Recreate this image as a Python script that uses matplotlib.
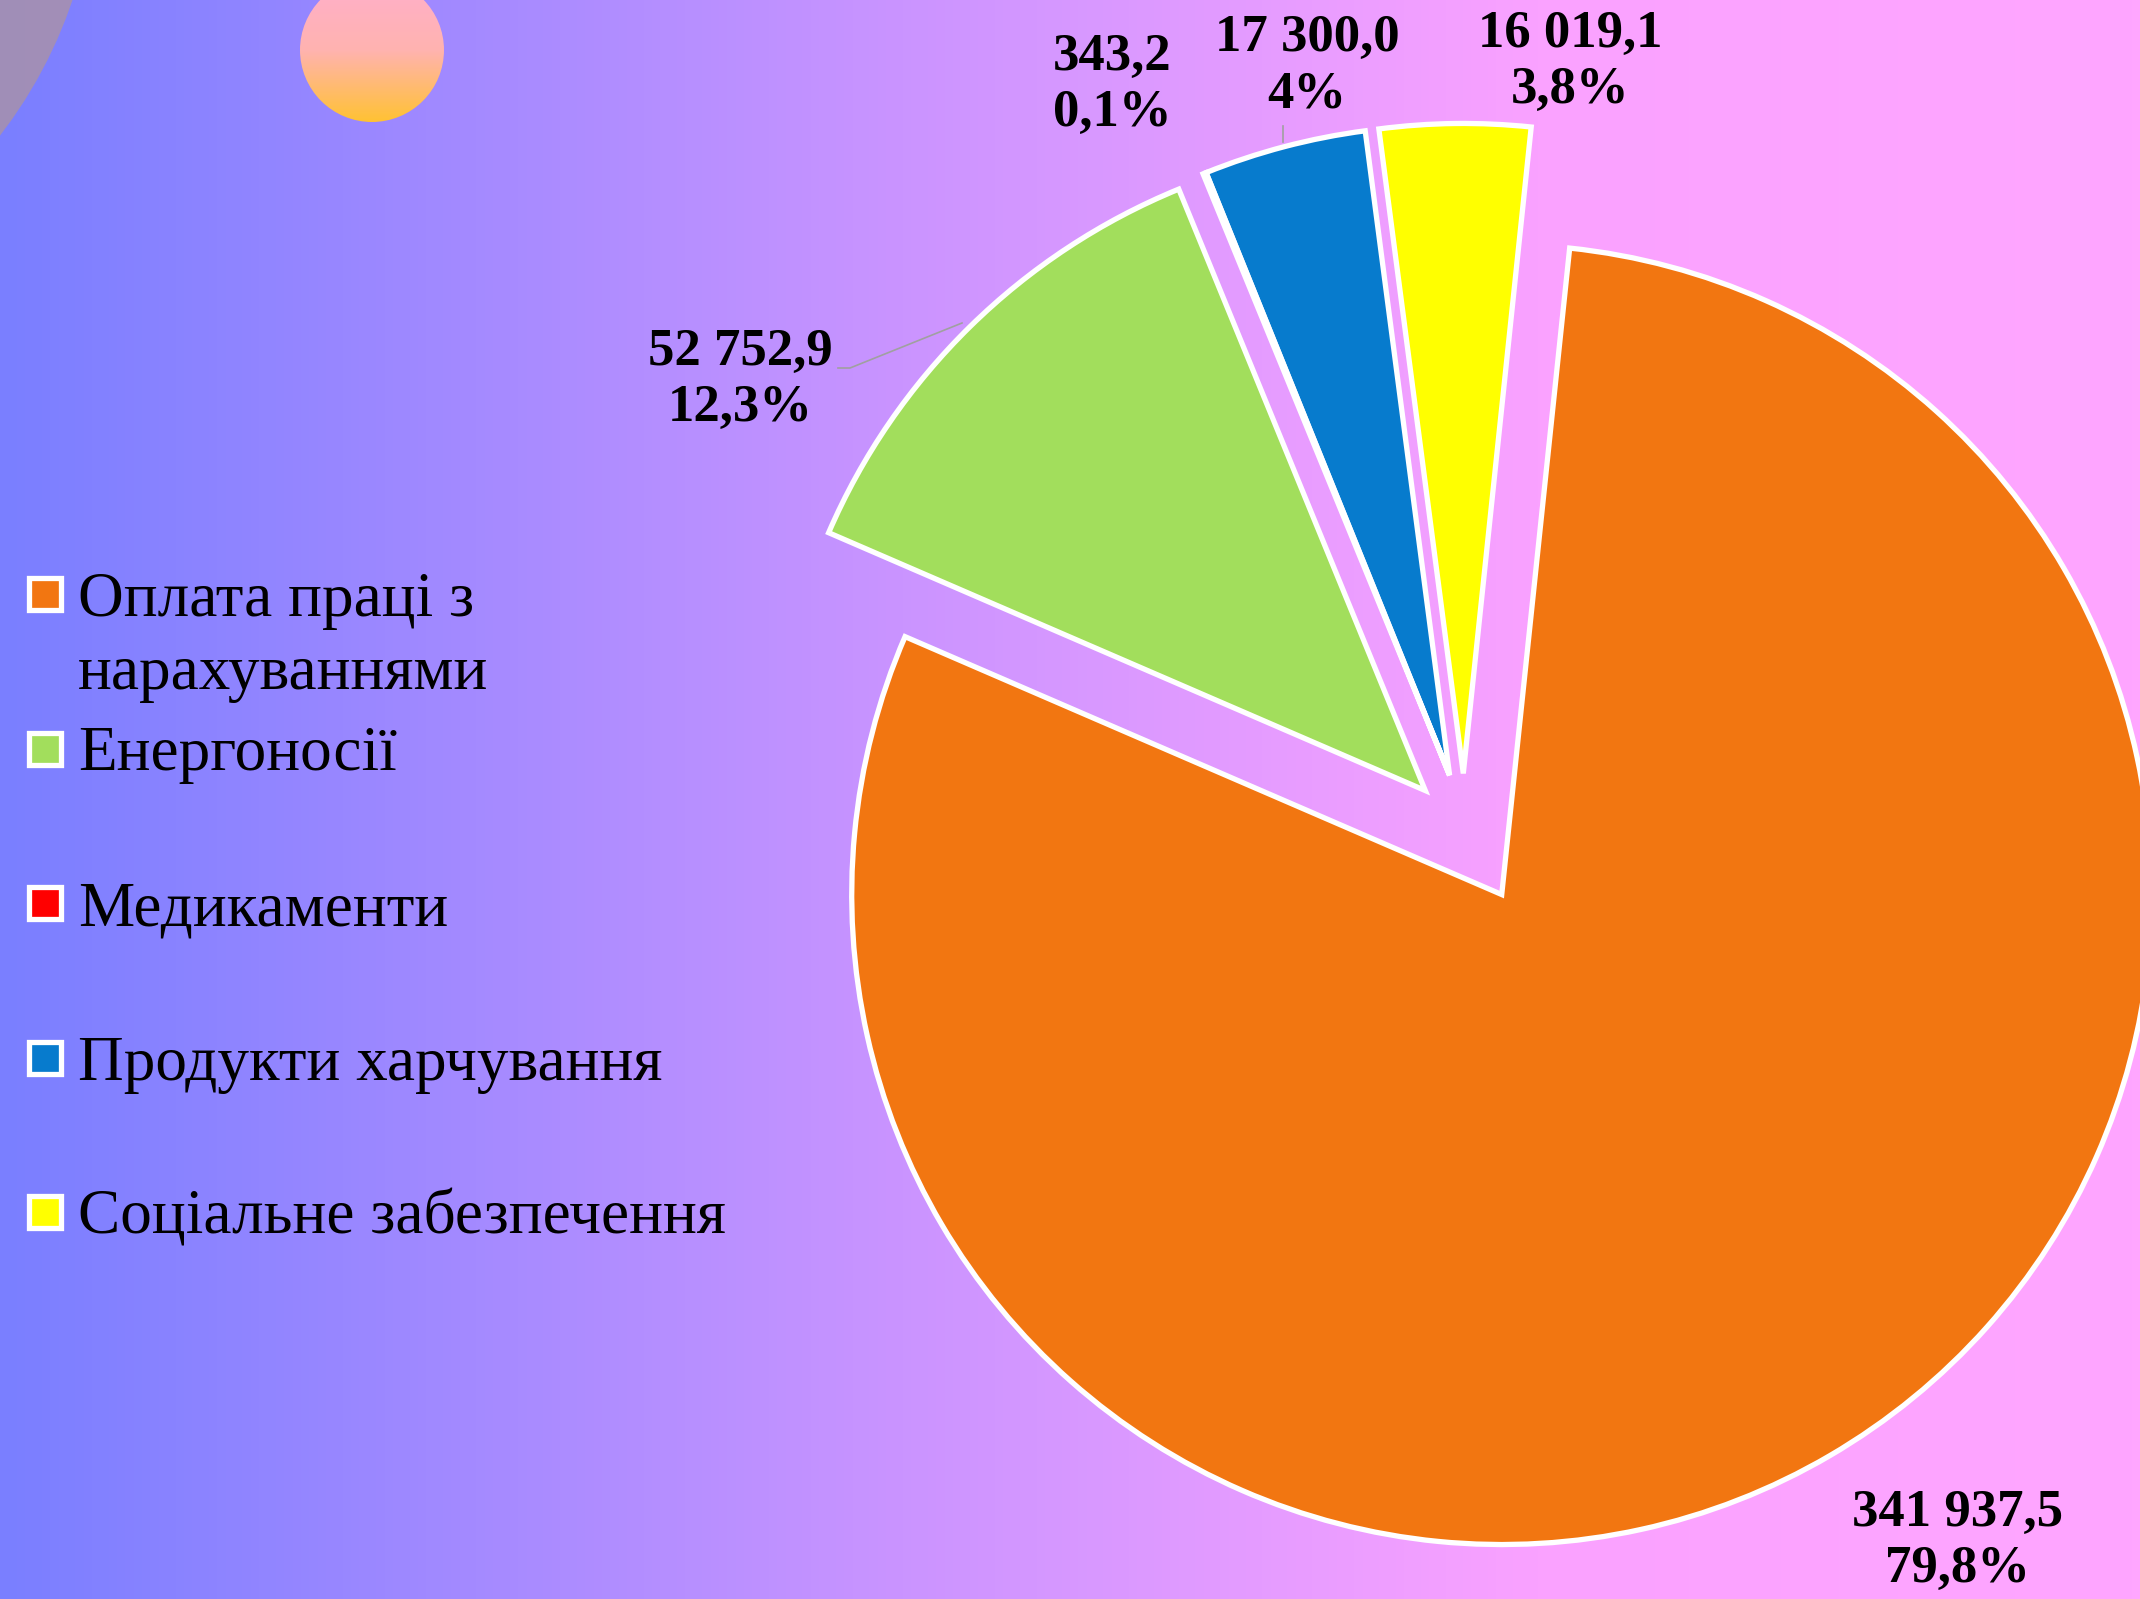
import matplotlib.pyplot as plt
import numpy as np
from matplotlib.colors import LinearSegmentedColormap
from matplotlib.patches import Circle, Rectangle

# data
categories = ["Оплата праці з\nнарахуваннями", "Енергоносії", "Медикаменти",
              "Продукти харчування", "Соціальне забезпечення"]
values = [341937.5, 52752.9, 343.2, 17300.0, 16019.1]
pct_labels = ["79,8%", "12,3%", "0,1%", "4%", "3,8%"]
colors = ["#F27611", "#A2DE5C", "#FF0000", "#077BCD", "#FFFF00"]
explode = [0.115, 0.085, 0.087, 0.087, 0.087]

W, H = 2140, 1599
fig = plt.figure(figsize=(W / 100, H / 100), dpi=100)
ax = fig.add_axes([0, 0, 1, 1])
plt.rcParams['font.family'] = ['Liberation Serif', 'DejaVu Serif']

# background gradient, blue-violet to pink
bg = LinearSegmentedColormap.from_list("bg", [
    (0.0, (122/255, 127/255, 1.0)),
    (0.42, (202/255, 148/255, 1.0)),
    (0.72, (250/255, 162/255, 1.0)),
    (1.0, (1.0, 166/255, 1.0))])
grad = np.linspace(0, 1, 512).reshape(1, -1)
ax.imshow(grad, cmap=bg, extent=(0, W, 0, H), aspect='auto', zorder=0)

# decorative circles in the top left
ax.add_patch(Circle((-369, H + 149), 466, color=(198/255, 157/255, 113/255),
                    alpha=0.5, lw=0, zorder=0.5))
peach = LinearSegmentedColormap.from_list("peach", ["#FFC233", "#FFB3B0", "#FFAFCC"])
sun = Circle((372, H - 50), 72, transform=ax.transData)
im = ax.imshow(np.linspace(0, 1, 256).reshape(-1, 1), cmap=peach, origin='lower',
               extent=(300, 444, H - 122, H + 22), aspect='auto', zorder=0.6)
im.set_clip_path(sun)

# pie (explode in matplotlib is in data units, so scale by radius)
cx, cy, r = 1464, H - 830, 650
wedges, _ = ax.pie(values, colors=colors, explode=[e * r for e in explode],
                   startangle=84, counterclock=False, center=(cx, cy), radius=r,
                   wedgeprops=dict(edgecolor='white', linewidth=3.8))
# the tiny slice sits against the next one, so its outline merges with it
wedges[2].set_center(wedges[3].center)
wedges[2].set_zorder(wedges[3].get_zorder() + 0.1)

# data labels
label_pos = [(1958, 1541), (740, 380), (1112, 85), (1307, 66), (1570, 62)]
for v, p, (x, y) in zip(values, pct_labels, label_pos):
    txt = f"{v:,.1f}".replace(",", " ").replace(".", ",")
    ax.text(x, H - y, txt + "\n" + p, ha='center', va='center',
            multialignment='center', fontsize=38, fontweight='bold',
            linespacing=1.22, zorder=5)

# leader lines
ax.plot([838, 850, 962], [H - 368, H - 368, H - 323], color='#A0A0A0', lw=1.2, zorder=4)
ax.plot([1283, 1283], [H - 126, H - 142], color='#A0A0A0', lw=1.2, zorder=4)

# legend on the left
for i, (name, c) in enumerate(zip(categories, colors)):
    my = 594 + i * 154.5
    ax.add_patch(Rectangle((29, H - my - 16), 32, 32, facecolor=c,
                           edgecolor='white', lw=3.8, zorder=5))
    for j, line in enumerate(name.split("\n")):
        ax.text(78, H - (my + 22 + j * 73), line, fontsize=45.5,
                ha='left', va='baseline', zorder=5)

ax.set_xlim(0, W)
ax.set_ylim(0, H)
ax.set_aspect('auto')
ax.axis('off')

fig.savefig("out.png", dpi=100)
